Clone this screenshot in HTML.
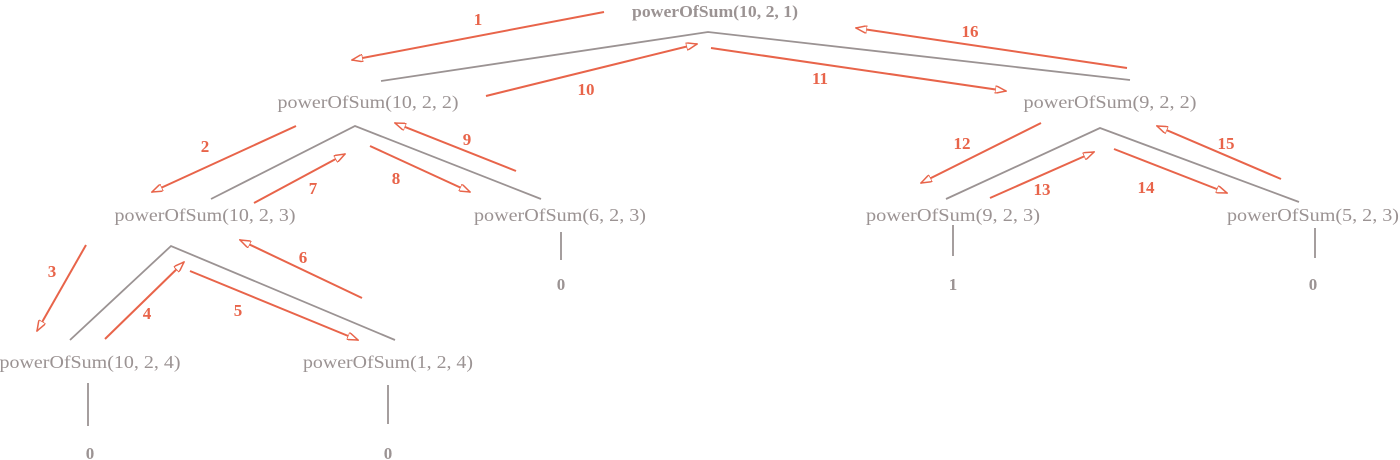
<!DOCTYPE html>
<html><head><meta charset="utf-8"><style>
html,body{margin:0;padding:0;background:#fff;width:1400px;height:460px;overflow:hidden}
svg text{font-family:"Liberation Serif",serif;}
.n{fill:#9b9393;font-size:18px;text-anchor:middle}
.b{fill:#9b9393;font-size:17px;font-weight:bold;text-anchor:middle}
.l{fill:#e8644a;font-size:17px;font-weight:bold;text-anchor:middle}
.g{stroke:#9b9393;stroke-width:1.8;fill:none}
.a{stroke:#e8644a;stroke-width:2;fill:none;marker-end:url(#ah)}
</style></head><body>
<svg width="1400" height="460" viewBox="0 0 1400 460" xmlns="http://www.w3.org/2000/svg">
<defs><marker id="ah" markerWidth="12" markerHeight="8" refX="11" refY="4" orient="auto" markerUnits="userSpaceOnUse"><path d="M0,0 L11,4 L0,8 Z" fill="#fff" stroke="#e8644a" stroke-width="1.5"/></marker></defs>
<g class="g">
<polyline points="381,81 708,32 1130,80"/>
<polyline points="211,199 355,126 541,199"/>
<polyline points="70,340 171,246 395,340"/>
<polyline points="946,199 1100,128 1299,202"/>
<line x1="561" y1="232" x2="561" y2="260"/>
<line x1="88" y1="383" x2="88" y2="426"/>
<line x1="388" y1="385" x2="388" y2="424"/>
<line x1="953" y1="225" x2="953" y2="256"/>
<line x1="1315" y1="228" x2="1315" y2="258"/>
</g>
<g class="a">
<line x1="604" y1="12" x2="352" y2="60"/>
<line x1="486" y1="96" x2="697" y2="44"/>
<line x1="711" y1="48" x2="1006" y2="91"/>
<line x1="1127" y1="68" x2="856" y2="28"/>
<line x1="296" y1="126" x2="152" y2="192"/>
<line x1="254" y1="203" x2="345" y2="154"/>
<line x1="370" y1="146" x2="470" y2="192"/>
<line x1="516" y1="171" x2="395" y2="123"/>
<line x1="86" y1="245" x2="37" y2="331"/>
<line x1="105" y1="339" x2="184" y2="262"/>
<line x1="190" y1="271" x2="358" y2="340"/>
<line x1="362" y1="298" x2="240" y2="240"/>
<line x1="1041" y1="123" x2="921" y2="183"/>
<line x1="990" y1="198" x2="1094" y2="152"/>
<line x1="1114" y1="149" x2="1227" y2="193"/>
<line x1="1281" y1="179" x2="1157" y2="126"/>
</g>
<text class="b" x="715" y="17" textLength="166" lengthAdjust="spacingAndGlyphs">powerOfSum(10, 2, 1)</text>
<text class="n" x="368" y="108" textLength="181" lengthAdjust="spacingAndGlyphs">powerOfSum(10, 2, 2)</text>
<text class="n" x="1110" y="108" textLength="173" lengthAdjust="spacingAndGlyphs">powerOfSum(9, 2, 2)</text>
<text class="n" x="205" y="221" textLength="181" lengthAdjust="spacingAndGlyphs">powerOfSum(10, 2, 3)</text>
<text class="n" x="560" y="221" textLength="172" lengthAdjust="spacingAndGlyphs">powerOfSum(6, 2, 3)</text>
<text class="n" x="953" y="221" textLength="174" lengthAdjust="spacingAndGlyphs">powerOfSum(9, 2, 3)</text>
<text class="n" x="1313" y="221" textLength="172" lengthAdjust="spacingAndGlyphs">powerOfSum(5, 2, 3)</text>
<text class="n" x="90" y="368" textLength="181" lengthAdjust="spacingAndGlyphs">powerOfSum(10, 2, 4)</text>
<text class="n" x="388" y="368" textLength="170" lengthAdjust="spacingAndGlyphs">powerOfSum(1, 2, 4)</text>
<text class="b" x="561" y="290">0</text>
<text class="b" x="953" y="290">1</text>
<text class="b" x="1313" y="290">0</text>
<text class="b" x="90" y="459">0</text>
<text class="b" x="388" y="459">0</text>
<text class="l" x="478" y="25">1</text>
<text class="l" x="586" y="95">10</text>
<text class="l" x="820" y="84">11</text>
<text class="l" x="970" y="37">16</text>
<text class="l" x="205" y="152">2</text>
<text class="l" x="313" y="194">7</text>
<text class="l" x="396" y="184">8</text>
<text class="l" x="467" y="145">9</text>
<text class="l" x="52" y="277">3</text>
<text class="l" x="147" y="319">4</text>
<text class="l" x="238" y="316">5</text>
<text class="l" x="303" y="263">6</text>
<text class="l" x="962" y="149">12</text>
<text class="l" x="1042" y="195">13</text>
<text class="l" x="1146" y="193">14</text>
<text class="l" x="1226" y="149">15</text>
</svg>
</body></html>
